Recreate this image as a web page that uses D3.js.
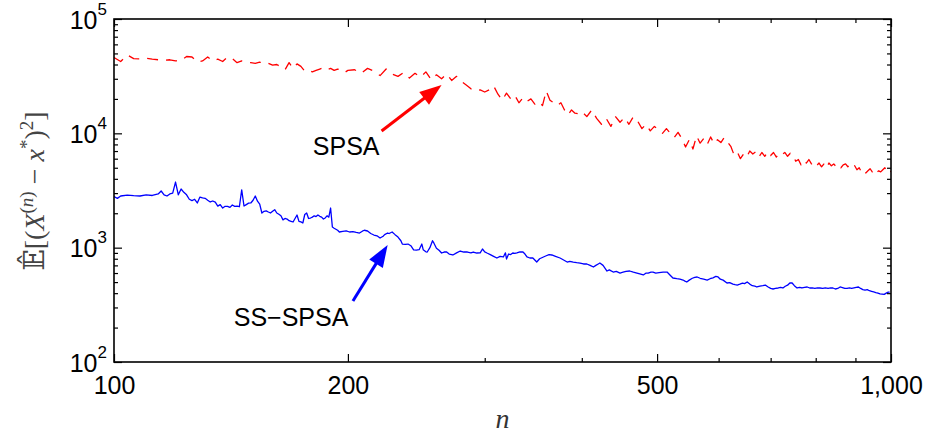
<!DOCTYPE html>
<html><head><meta charset="utf-8">
<script src="https://cdn.jsdelivr.net/npm/d3@7"></script>
<style>body{margin:0;background:#fff}</style>
</head><body>
<svg id="chart" width="928" height="438"></svg>
<script>
// ---- data: SPSA (red, dashed) ----
const spsaN = [100,102,104,106,108,110,112,114,116,118,120,122,124,126,128,130,132,134,136,138,140,142,144,146,148,150,152,154,156,158,160,162,164,166,168,170,172,174,176,178,180,182,184,186,188,190,192,194,196,198,200,
204,208,212,216,220,224,228,232,236,240,244,248,252,256,260,264,268,272,276,280,284,288,292,296,300,304,308,312,316,320,324,328,332,336,340,344,348,352,356,360,364,368,372,376,380,384,388,392,396,400,
406,412,418,424,430,436,442,448,454,460,466,472,478,484,490,496,502,508,514,520,526,532,538,544,550,556,562,568,574,580,586,592,598,604,610,616,622,628,634,640,646,652,658,664,670,676,682,688,694,700,706,712,718,724,730,736,742,748,754,760,766,772,778,784,790,796,802,808,814,820,826,832,838,844,850,856,862,868,874,880,886,892,898,904,910,916,922,928,934,940,946,952,958,964,970,976,982,988,994,1000];
const spsaV = [46000,42500,48500,45000,44800,45500,44500,44000,43500,44000,43000,43500,47000,46500,42000,43000,46500,43000,44500,42500,46500,45000,41500,43000,42000,41500,41000,42000,40500,41000,39500,40000,38000,36000,41500,37000,40500,38500,35000,35500,34500,35500,36500,37500,36000,37000,35500,36500,35500,34000,35500,
36000,33500,37000,35000,32000,36500,33000,31500,34000,30500,33500,31000,34500,29500,32500,30000,33000,29000,31500,28500,26500,24500,23500,24000,23000,24000,26000,22000,19500,22500,20000,21500,18500,20500,19000,20000,18000,19000,17500,23500,19500,18500,17500,18500,16000,14500,16000,15000,14800,15500,
14000,16000,13500,12000,13500,11500,14000,12500,13800,12000,14000,12800,11000,12000,10500,11500,10800,10000,11000,10000,9200,10200,9000,7600,8800,7300,9500,8200,9000,8000,9300,8100,8800,8300,9200,8400,7700,6500,6900,6000,6600,6200,7000,6600,6900,6200,6800,6300,6900,6400,6800,6200,6700,6500,6800,6300,6700,6400,5700,5900,5300,5800,5500,5900,5400,5600,5200,5500,5100,5400,5000,5500,5200,5400,5100,5300,5000,5300,5400,5100,5300,5000,5200,4800,5000,4600,4800,4500,4700,4900,4600,4800,4500,4700,4600,4800,5000,4700,4900,4600];

// ---- data: SS-SPSA (blue, solid) ----
const ssN = [100,101,102,104,106,108,110,112,114,115,116,117,118,119,120,121,122,123,124,125,126,127,128,129,130,131,132,133,134,135,136,137,138,139,140,141,142,143,144,145,146,147,148,149,150,151,152,153,154,155,156,157,158,159,160,161,162,163,164,165,166,167,168,169,170,171,172,173,174,175,176,177,178,179,180,181,182,183,184,185,186,187,188,189,190,191,192,193,194,195,197,199,201,203,205,207,209,210,212,214,216,218,220,222,223,225,226,228,230,232,234,235,237,239,241,243,245,247,249,250,252,253,255,257,258,260,262,264,266,268,270,273,276,279,282,285,288,290,293,296,298,300,302,305,308,311,314,317,319,320,322,324,326,328,330,333,336,338,340,343,346,350,353,357,360,363,366,370,375,379,383,386,390,394,398,402,406,410,414,417,420,422,426,431,434,439,443,448,452,456,461,466,471,475,480,484,487,491,494,498,503,509,515,519,524,530,535,540,543,546,550,555,559,563,568,574,580,585,590,595,599,603,608,615,620,626,630,634,639,644,648,653,658,663,668,672,678,684,689,694,700,705,710,716,721,726,731,736,741,746,751,757,763,768,774,780,786,792,798,804,810,817,823,830,836,842,848,854,860,866,872,878,884,890,896,902,908,914,920,926,932,938,944,950,956,962,968,974,980,986,992,996,1000];
const ssV = [2800,2700,2830,2880,2850,2830,2890,2860,2950,3130,2900,2830,2950,3000,3750,2900,3260,3050,2900,2650,2580,2650,2460,2770,2720,2700,2600,2510,2560,2500,2310,2380,2220,2300,2300,2250,2360,2300,2310,2280,3200,2313,2380,2450,2460,2600,2830,2550,2400,2010,2080,2100,2050,2010,2080,2150,2010,1960,1900,1750,1800,1780,1720,1700,1677,1800,1930,1700,1680,1643,1950,2009,1800,1817,1850,1900,1870,1930,1880,1850,1780,1820,1900,1850,2222,1516,1480,1450,1420,1371,1390,1400,1371,1380,1360,1343,1400,1420,1399,1330,1290,1270,1215,1260,1300,1343,1330,1371,1300,1239,1150,1076,1070,1076,1040,955,950,960,1076,960,920,916,1000,1150,1100,990,950,898,916,916,880,863,900,935,916,916,900,916,898,900,973,920,898,870,840,812,840,829,900,796,880,870,898,890,900,920,916,880,829,812,812,749,800,829,850,870,863,840,812,780,749,760,749,740,734,720,720,700,677,700,720,734,700,625,640,612,620,600,610,620,625,610,600,590,577,600,600,612,612,600,605,612,612,580,543,535,530,521,510,501,520,540,550,554,540,530,521,535,545,560,554,530,520,491,495,480,475,471,480,490,485,501,480,465,460,453,460,465,471,455,440,435,440,444,450,444,460,470,491,491,465,444,450,444,450,453,444,445,440,444,444,440,445,440,444,444,435,440,453,448,440,440,445,440,445,450,453,440,430,426,430,420,415,410,405,401,395,393,390,400,409,409];

// ---- axes ticks / labels ----
const xMajorTicks = [100, 200, 500, 1000];
const xMajorLabels = ["100", "200", "500", "1,000"];
const xMinorTicks = [300, 400, 600, 700, 800, 900];
const yMajorTicks = [100, 1000, 10000, 100000];
const yMajorExponents = ["2", "3", "4", "5"];
const yMinorTicks = [200,300,400,500,600,700,800,900,2000,3000,4000,5000,6000,7000,8000,9000,20000,30000,40000,50000,60000,70000,80000,90000];

// ---- annotations (data coordinates) ----
const annLabels = ["SPSA", "SS\u2212SPSA"];
const annColors = ["#ff0000", "#0000ff"];
const annTextN = [199, 169];
const annTextV = [6460, 206];
const arrowFromN = [221, 203];
const arrowFromV = [10470, 342];
const arrowToN = [264, 225];
const arrowToV = [26500, 1055];

const W = 928, H = 438;
const L = 114, R = 891, T = 19, B = 362;
const svg = d3.select("#chart");
svg.append("rect").attr("width", W).attr("height", H).attr("fill", "#fff");

const x = d3.scaleLog().domain([100, 1000]).range([L, R]);
const y = d3.scaleLog().domain([100, 100000]).range([B, T]);
const FONT = "'Liberation Sans', Arial, Helvetica, sans-serif";

svg.append("defs").append("clipPath").attr("id", "clip")
  .append("rect").attr("x", L).attr("y", T).attr("width", R - L).attr("height", B - T);

// data lines
const line = d3.line().x(d => x(d[0])).y(d => y(d[1]));
const spsa = spsaN.map((n, i) => [n, spsaV[i]]);
const ss = ssN.map((n, i) => [n, ssV[i]]);
const plot = svg.append("g").attr("clip-path", "url(#clip)");
plot.append("path").datum(ss).attr("d", line).attr("fill", "none")
  .attr("stroke", "#0000ff").attr("stroke-width", 1.3).attr("stroke-linejoin", "round");
plot.append("path").datum(spsa).attr("d", line).attr("fill", "none")
  .attr("stroke", "#ff0000").attr("stroke-width", 1.3).attr("stroke-dasharray", "11,8").attr("stroke-linejoin", "round");

// axes
function styleAxis(g) {
  g.select(".domain").remove();
  g.selectAll(".tick line").attr("stroke", "#000").attr("stroke-width", 1.2);
  g.selectAll(".tick text").attr("font-family", FONT).attr("font-size", 25).attr("fill", "#000");
}
svg.append("g").attr("transform", `translate(0,${B})`)
  .call(d3.axisBottom(x).tickValues(xMajorTicks).tickFormat((d, i) => xMajorLabels[i]).tickSizeInner(-8).tickSizeOuter(0).tickPadding(14))
  .call(styleAxis);
svg.append("g").attr("transform", `translate(0,${B})`)
  .call(d3.axisBottom(x).tickValues(xMinorTicks).tickFormat("").tickSizeInner(-4).tickSizeOuter(0))
  .call(styleAxis);
svg.append("g").attr("transform", `translate(0,${T})`)
  .call(d3.axisTop(x).tickValues(xMajorTicks).tickFormat("").tickSizeInner(-8).tickSizeOuter(0))
  .call(styleAxis);
svg.append("g").attr("transform", `translate(0,${T})`)
  .call(d3.axisTop(x).tickValues(xMinorTicks).tickFormat("").tickSizeInner(-4).tickSizeOuter(0))
  .call(styleAxis);

const yl = svg.append("g").attr("transform", `translate(${L},0)`)
  .call(d3.axisLeft(y).tickValues(yMajorTicks).tickFormat("").tickSizeInner(-8).tickSizeOuter(0).tickPadding(7))
  .call(styleAxis);
yl.selectAll(".tick text").each(function (d, i) {
  const t = d3.select(this).attr("dy", "0.36em");
  t.append("tspan").text("10");
  t.append("tspan").attr("dy", -14).attr("font-size", 17).text(yMajorExponents[i]);
});
svg.append("g").attr("transform", `translate(${L},0)`)
  .call(d3.axisLeft(y).tickValues(yMinorTicks).tickFormat("").tickSizeInner(-4).tickSizeOuter(0))
  .call(styleAxis);
svg.append("g").attr("transform", `translate(${R},0)`)
  .call(d3.axisRight(y).tickValues(yMajorTicks).tickFormat("").tickSizeInner(-8).tickSizeOuter(0))
  .call(styleAxis);
svg.append("g").attr("transform", `translate(${R},0)`)
  .call(d3.axisRight(y).tickValues(yMinorTicks).tickFormat("").tickSizeInner(-4).tickSizeOuter(0))
  .call(styleAxis);

// frame
svg.append("rect").attr("x", L).attr("y", T).attr("width", R - L).attr("height", B - T)
  .attr("fill", "none").attr("stroke", "#000").attr("stroke-width", 1.6);

// axis labels
svg.append("text").attr("x", (L + R) / 2).attr("y", 428).attr("text-anchor", "middle")
  .attr("font-family", "'Liberation Serif', 'DejaVu Serif', serif").attr("font-style", "italic")
  .attr("font-size", 28).attr("fill", "#333").text("n");

const ylab = svg.append("text").attr("transform", `translate(44,191) rotate(-90)`)
  .attr("text-anchor", "middle").attr("font-family", "'Liberation Serif', 'DejaVu Serif', serif")
  .attr("font-size", 28).attr("fill", "#444");
ylab.append("tspan").text("\u{1D53C}\u0302");
ylab.append("tspan").text("[(");
ylab.append("tspan").attr("font-style", "italic").text("X");
ylab.append("tspan").attr("dy", -11).attr("font-size", 19).text("(");
ylab.append("tspan").attr("font-size", 19).attr("font-style", "italic").text("n");
ylab.append("tspan").attr("font-size", 19).text(")");
ylab.append("tspan").attr("dy", 11).text(" \u2212 ");
ylab.append("tspan").attr("font-style", "italic").text("x");
ylab.append("tspan").attr("dy", -11).attr("font-size", 19).text("*");
ylab.append("tspan").attr("dy", 11).text(")");
ylab.append("tspan").attr("dy", -11).attr("font-size", 19).text("2");
ylab.append("tspan").attr("dy", 11).text("]");

// annotations
annLabels.forEach((lab, i) => {
  svg.append("text").attr("x", x(annTextN[i])).attr("y", y(annTextV[i])).attr("text-anchor", "middle")
    .attr("font-family", FONT).attr("font-size", 25).attr("fill", "#000").text(lab);
  const x1 = x(arrowFromN[i]), y1 = y(arrowFromV[i]), x2 = x(arrowToN[i]), y2 = y(arrowToV[i]);
  const dx = x2 - x1, dy = y2 - y1, len = Math.hypot(dx, dy), ux = dx / len, uy = dy / len;
  const hl = 22, hw = 8;
  const bx = x2 - ux * hl, by = y2 - uy * hl;
  svg.append("line").attr("x1", x1).attr("y1", y1).attr("x2", bx + ux * 3).attr("y2", by + uy * 3)
    .attr("stroke", annColors[i]).attr("stroke-width", 3);
  svg.append("path").attr("d", `M${x2},${y2}L${bx - uy * hw},${by + ux * hw}L${bx + uy * hw},${by - ux * hw}Z`)
    .attr("fill", annColors[i]);
});
</script>
</body></html>
